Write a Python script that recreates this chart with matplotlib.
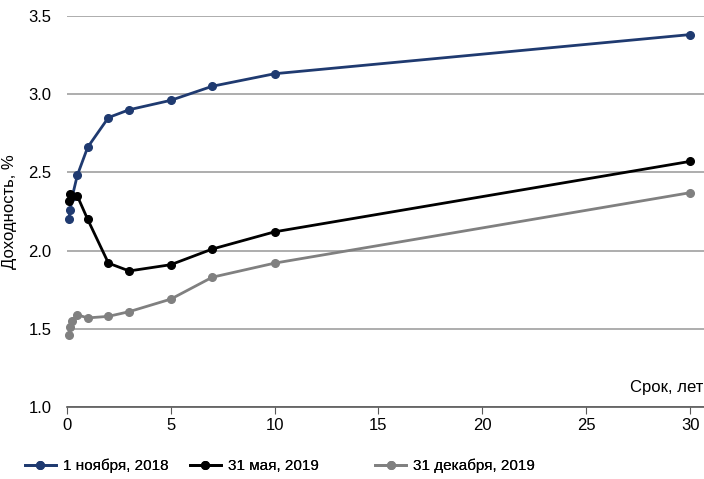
import numpy as np
import matplotlib
matplotlib.use("Agg")
from matplotlib import pyplot as plt

plt.rcParams['font.family'] = ['Liberation Sans', 'DejaVu Sans']

# maturities in years: 1m, 2m, 3m, 6m, 1y, 2y, 3y, 5y, 7y, 10y, 30y
terms = [1 / 12, 2 / 12, 0.25, 0.5, 1, 2, 3, 5, 7, 10, 30]
nov_2018 = [2.20, 2.26, 2.34, 2.48, 2.66, 2.85, 2.90, 2.96, 3.05, 3.13, 3.38]
may_2019 = [2.32, 2.36, 2.35, 2.35, 2.20, 1.92, 1.87, 1.91, 2.01, 2.12, 2.57]
dec_2019 = [1.46, 1.51, 1.55, 1.59, 1.57, 1.58, 1.61, 1.69, 1.83, 1.92, 2.37]
labels = ["1 ноября, 2018", "31 мая, 2019", "31 декабря, 2019"]
colors = ["#1f3a70", "#000000", "#808080"]

fig = plt.figure(figsize=(7.04, 4.79), dpi=100)
ax = fig.add_axes([0.095, 0.150, 0.905, 0.817])

lines = []
for ys, lab, c in zip([nov_2018, may_2019, dec_2019], labels, colors):
    ln, = ax.plot(terms, ys, color=c, lw=2, marker="o", ms=5.5, label=lab, clip_on=False, zorder=3)
    lines.append(ln)

ax.set_xlim(0, 30.67)
ax.set_ylim(1.0, 3.5)
ax.set_xticks(np.arange(0, 31, 5))
ax.set_yticks(np.arange(1.0, 3.51, 0.5))
ax.yaxis.set_major_formatter(matplotlib.ticker.FormatStrFormatter("%.1f"))
ax.grid(axis="y", color="#a0a0a0", lw=1.2)
ax.set_axisbelow(True)
for s in ["top", "right", "left"]:
    ax.spines[s].set_visible(False)
ax.spines["bottom"].set_color("#595959")
ax.spines["bottom"].set_linewidth(1.2)
ax.tick_params(axis="x", direction="out", length=5, color="#595959", labelsize=12, pad=3)
ax.tick_params(axis="y", length=0, labelsize=12, pad=11)

ax.set_ylabel("Доходность, %", fontsize=12, labelpad=8)
ax.text(0.999, 0.03, "Срок, лет", transform=ax.transAxes, ha="right", va="bottom",
        fontsize=12, clip_on=False)

# three legend entries, placed separately like the reference
for ln, x0 in zip(lines, [0.0355, 0.27, 0.533]):
    leg = fig.legend(handles=[ln], loc="center left", bbox_to_anchor=(x0, 0.027),
                     frameon=False, fontsize=11, handlelength=2.0, handletextpad=0.5,
                     borderpad=0, borderaxespad=0)
    fig.add_artist(leg)

fig.savefig("out.png", dpi=100)
